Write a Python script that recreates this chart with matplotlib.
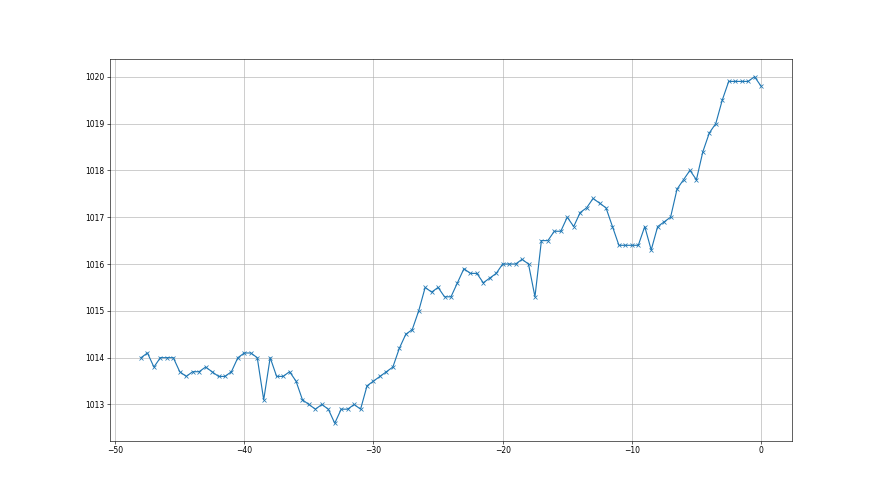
import numpy as np
import matplotlib
matplotlib.use("Agg")
import matplotlib.pyplot as plt

# time offsets (every half step) and pressure readings
hours = np.arange(-48, 0.01, 0.5)

pressure = [
    1014.0, 1014.1, 1013.8, 1014.0, 1014.0, 1014.0, 1013.7, 1013.6, 1013.7, 1013.7,
    1013.8, 1013.7, 1013.6, 1013.6, 1013.7, 1014.0, 1014.1, 1014.1, 1014.0, 1013.1,
    1014.0, 1013.6, 1013.6, 1013.7, 1013.5, 1013.1, 1013.0, 1012.9, 1013.0, 1012.9,
    1012.6, 1012.9, 1012.9, 1013.0, 1012.9, 1013.4, 1013.5, 1013.6, 1013.7, 1013.8,
    1014.2, 1014.5, 1014.6, 1015.0, 1015.5, 1015.4, 1015.5, 1015.3, 1015.3, 1015.6,
    1015.9, 1015.8, 1015.8, 1015.6, 1015.7, 1015.8, 1016.0, 1016.0, 1016.0, 1016.1,
    1016.0, 1015.3, 1016.5, 1016.5, 1016.7, 1016.7, 1017.0, 1016.8, 1017.1, 1017.2,
    1017.4, 1017.3, 1017.2, 1016.8, 1016.4, 1016.4, 1016.4, 1016.4, 1016.8, 1016.3,
    1016.8, 1016.9, 1017.0, 1017.6, 1017.8, 1018.0, 1017.8, 1018.4, 1018.8, 1019.0,
    1019.5, 1019.9, 1019.9, 1019.9, 1019.9, 1020.0, 1019.8,
]

fig, ax = plt.subplots(figsize=(16, 9), dpi=55)
ax.plot(hours, pressure, marker="x")
ax.grid(True)

fig.savefig("out.png", dpi=55)
